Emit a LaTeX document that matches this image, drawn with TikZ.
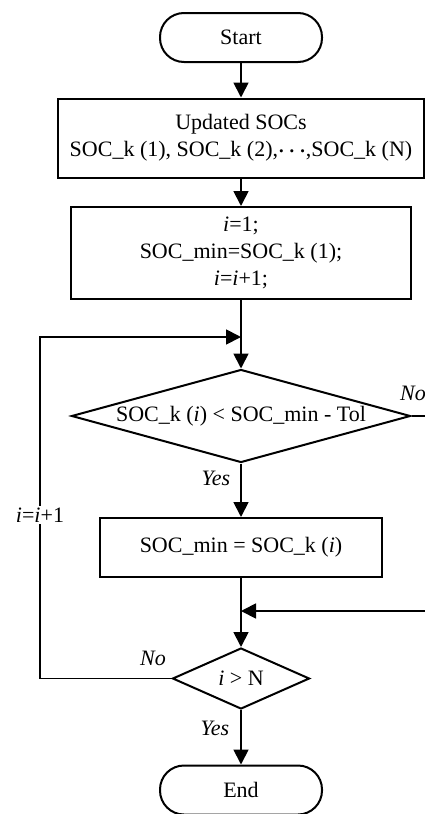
\documentclass[tikz,border=0pt]{standalone}
\usepackage{fontspec}
\setmainfont{Liberation Serif}
\usetikzlibrary{arrows.meta,positioning,shapes.geometric}

\begin{document}
\begin{tikzpicture}[
    x=1pt, y=1pt,
    font=\fontsize{22}{27}\selectfont,
    term/.style={draw, line width=2pt, rounded corners=24pt,
      minimum width=162pt, minimum height=49pt, inner sep=0pt},
    procbox/.style={draw, line width=2pt, align=center, inner sep=0pt},
    decide/.style={draw, diamond, line width=2pt, inner sep=0pt},
    flow/.style={line width=1.8pt, -{Triangle[length=15pt,width=15pt]}},
    plainline/.style={line width=1.8pt},
    lbl/.style={font=\fontsize{22}{27}\selectfont\itshape, inner sep=0pt},
  ]

  % ---------- frame ----------
  \def\cx{241}
  \useasboundingbox (0,0) rectangle (425,-814);

  % ---------- main column ----------
  \node[term] (start) at (\cx,-37.5) {Start};
  \node[procbox, minimum width=366pt, minimum height=79pt] (socs) at (\cx,-138)
    {Updated SOCs\\SOC\_k (1), SOC\_k (2),{\boldmath$\cdots$},SOC\_k (N)};
  \node[procbox, minimum width=340pt, minimum height=92pt] (init) at (\cx,-253)
    {\textit{i}=1;\\SOC\_min=SOC\_k (1);\\\textit{i}=\textit{i}+1;};
  \node[decide, aspect=3.645, minimum width=339pt, minimum height=93pt] (cmp) at (\cx,-416)
    {SOC\_k (\textit{i}) < SOC\_min - Tol};
  \node[procbox, minimum width=282pt, minimum height=59pt] (upd) at (\cx,-547.5)
    {SOC\_min = SOC\_k (\textit{i})};
  \node[decide, aspect=2.25, minimum width=137pt, minimum height=61pt] (last) at (\cx,-678.5)
    {\textit{i} > N};
  \node[term] (stop) at (\cx,-790) {End};

  % ---------- helper points ----------
  \coordinate (loopin) at (\cx,-337);
  \coordinate (loopup) at (40,-337);
  \coordinate (loopdown) at (40,-678.5);
  \coordinate (join) at (\cx,-611);
  \coordinate (rtA) at (425,-416);
  \coordinate (rtB) at (425,-611);

  % ---------- connectors ----------
  \draw[flow] (start) -- (socs);
  \draw[flow] (socs) -- (init);
  \draw[flow] (init) -- (cmp);
  \draw[flow] (cmp) -- (upd);
  \draw[flow] (upd) -- (last);
  \draw[flow] (last) -- (stop);
  \draw[plainline] (cmp.east) -- (rtA);
  \draw[flow] (rtB) -- (join);
  \draw[flow] (last.west) -- (loopdown) -- (loopup) -- (loopin);

  % ---------- labels ----------
  \node[lbl, anchor=west] (noA) at (400,-393) {No};
  \node[lbl] (yesA) at (216,-478) {Yes};
  \node[lbl] (noB) at (153,-658) {No};
  \node[lbl] (yesB) at (215,-728) {Yes};
  \node[fill=white, inner sep=2pt] (inc) at (40,-515)
    {\textit{i}=\textit{i}+1};

\end{tikzpicture}
\end{document}
